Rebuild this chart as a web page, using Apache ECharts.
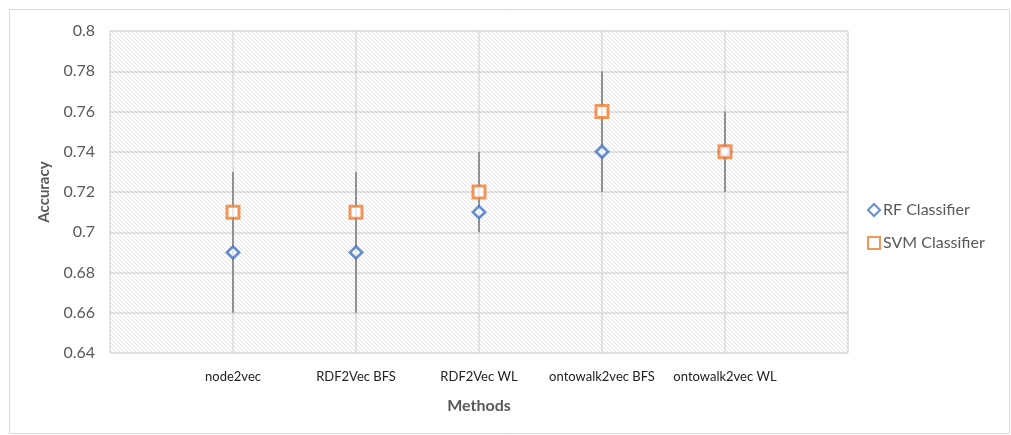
<!DOCTYPE html>
<html>
<head>
<meta charset="utf-8">
<style>
  html, body { margin: 0; padding: 0; background: #fff; }
  #chart { width: 1011px; height: 435px; }
</style>
<script src="https://cdn.jsdelivr.net/npm/echarts@6/dist/echarts.min.js"></script>
</head>
<body>
<div id="chart"></div>
<script>
// chart data
const categories = ["node2vec", "RDF2Vec BFS", "RDF2Vec WL", "ontowalk2vec BFS", "ontowalk2vec WL"];
const rfValues = [0.69, 0.69, 0.71, 0.74, 0.74];
const svmValues = [0.71, 0.71, 0.72, 0.76, 0.74];
const errLow = [0.66, 0.66, 0.70, 0.72, 0.72];
const errHigh = [0.73, 0.73, 0.74, 0.78, 0.76];
const yTicks = [0.64, 0.66, 0.68, 0.7, 0.72, 0.74, 0.76, 0.78, 0.8];

// hatched plot background like excel
function hatch() {
  const c = document.createElement("canvas");
  c.width = 4;
  c.height = 4;
  const ctx = c.getContext("2d");
  ctx.fillStyle = "#ffffff";
  ctx.fillRect(0, 0, 4, 4);
  ctx.strokeStyle = "#e2e2e2";
  ctx.lineWidth = 1;
  ctx.beginPath();
  ctx.moveTo(-1, -1);
  ctx.lineTo(5, 5);
  ctx.moveTo(-1, 3);
  ctx.lineTo(1, 5);
  ctx.moveTo(3, -1);
  ctx.lineTo(5, 1);
  ctx.stroke();
  return c;
}

const chart = echarts.init(document.getElementById("chart"));
const font = "Lato, 'Open Sans', sans-serif";

const option = {
  animation: false,
  graphic: [{
    type: "rect",
    shape: { x: 9.5, y: 9.5, width: 1000, height: 424 },
    style: { fill: "none", stroke: "#d9d9d9", lineWidth: 1 },
    silent: true
  }],
  grid: {
    left: 110, right: 163, top: 31, bottom: 82,
    show: true,
    borderWidth: 0,
    backgroundColor: { image: hatch(), repeat: "repeat" }
  },
  legend: {
    orient: "vertical",
    left: 862,
    top: 197,
    itemGap: 17,
    itemWidth: 12,
    itemHeight: 12,
    textStyle: { fontFamily: font, fontSize: 16, color: "#595959", padding: [0, 0, 0, -2] },
    data: [
      { name: "RF Classifier", icon: "diamond" },
      { name: "SVM Classifier", icon: "rect" }
    ]
  },
  xAxis: {
    type: "value",
    min: 0, max: 6, interval: 1,
    name: "Methods",
    nameLocation: "middle",
    nameGap: 45,
    nameTextStyle: { fontFamily: font, fontSize: 16, fontWeight: "bold", color: "#595959" },
    axisLine: { show: false },
    axisTick: { show: false },
    axisLabel: {
      margin: 17,
      fontFamily: font, fontSize: 13, color: "#222",
      formatter: v => categories[v - 1] || ""
    },
    splitLine: { show: true, lineStyle: { color: "#d9d9d9", width: 1.5 } }
  },
  yAxis: {
    type: "value",
    min: 0.64, max: 0.8, interval: 0.02,
    name: "Accuracy",
    nameLocation: "middle",
    nameGap: 58,
    nameTextStyle: { fontFamily: font, fontSize: 15, fontWeight: "bold", color: "#595959" },
    axisLine: { show: false },
    axisTick: { show: false },
    axisLabel: {
      margin: 15,
      fontFamily: font, fontSize: 16, color: "#595959",
      formatter: v => yTicks.includes(+v.toFixed(2)) ? String(+v.toFixed(2)) : ""
    },
    splitLine: { show: true, lineStyle: { color: "#d9d9d9", width: 1.5 } }
  },
  series: [
    {
      type: "custom",
      name: "errors",
      z: 2,
      data: categories.map((c, i) => [i + 1, errLow[i], errHigh[i]]),
      renderItem: (params, api) => {
        const a = api.coord([api.value(0), api.value(1)]);
        const b = api.coord([api.value(0), api.value(2)]);
        return {
          type: "line",
          shape: { x1: a[0], y1: a[1], x2: b[0], y2: b[1] },
          style: { stroke: "#7f7f7f", lineWidth: 1.6 }
        };
      }
    },
    {
      type: "scatter",
      name: "RF Classifier",
      z: 3,
      symbol: "diamond",
      symbolSize: 12,
      itemStyle: { color: "#ffffff", borderColor: "#4472c4", borderWidth: 2.8 },
      data: categories.map((c, i) => [i + 1, rfValues[i]])
    },
    {
      type: "scatter",
      name: "SVM Classifier",
      z: 4,
      symbol: "rect",
      symbolSize: 12,
      itemStyle: { color: "#ffffff", borderColor: "#ed7d31", borderWidth: 3 },
      data: categories.map((c, i) => [i + 1, svmValues[i]])
    }
  ]
};

chart.setOption(option);
</script>
</body>
</html>
